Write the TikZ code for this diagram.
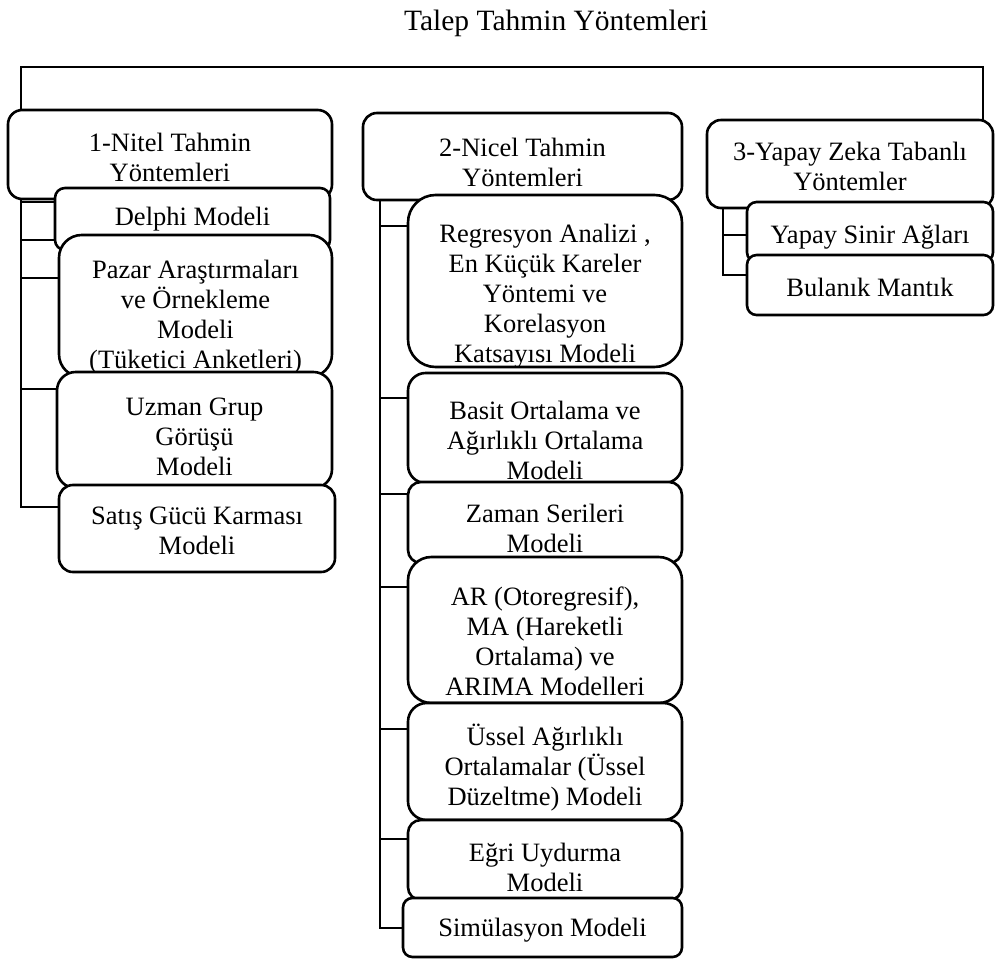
\documentclass[tikz,border=0pt]{standalone}
\usepackage{fontspec}
\setmainfont{Liberation Serif}
\newcommand\mybox[7]{%
  \node[bx, rounded corners={0.16*(#5-#3)}, minimum width={#4-#2}, minimum height={#5-#3}] (#1) at ({(#2+#4)/2},{(#3+#5)/2}) {};
  \node[tx] (#1-t) at ({(#2+#4)/2},#6) {#7};}
\begin{document}
\begin{tikzpicture}[x=1pt,y=-1pt,
  ln/.style={line width=2.6pt, line cap=rect},
  bx/.style={draw, line width=2.6pt, fill=white, inner sep=0pt, rectangle},
  tx/.style={align=center, inner sep=0pt, font=\fontsize{26.5}{30}\selectfont}]
\path[use as bounding box, fill=white] (0,0) rectangle (995,961);
\node[font=\fontsize{29.5}{32}\selectfont, inner sep=0pt] (title) at (556,23) {Talep Tahmin Yöntemleri};

% connectors
\coordinate (c1) at (21,67);
\coordinate (c3) at (983,67);
\draw[ln] (21,112) -- (c1) -- (c3) -- (983,122);
% group 1 trunk and branches
\draw[ln] (21,198) -- (21,507);
\foreach \yy in {202,240,278,389,507} \draw[ln] (21,\yy) -- (57,\yy);
% group 2
\draw[ln] (380,198) -- (380,928);
\foreach \yy in {226,398,494,587,729,839} \draw[ln] (380,\yy) -- (408,\yy);
\draw[ln] (380,928) -- (403,928);
% group 3
\draw[ln] (723,206) -- (723,275);
\draw[ln] (723,235) -- (747,235);
\draw[ln] (723,275) -- (747,275);

% group 1 boxes
\mybox{n1}{8}{110}{332}{199}{157}{1-Nitel Tahmin\\Yöntemleri}
\mybox{n1a}{55}{188}{330}{250}{219}{Delphi Modeli}
\mybox{n1b}{59}{235}{332}{377}{317}{Pazar Araştırmaları\\ve Örnekleme\\Modeli\\(Tüketici Anketleri)}
\mybox{n1c}{57}{372}{332}{488}{437}{Uzman Grup\\Görüşü\\Modeli}
\mybox{n1d}{59}{485}{335}{572}{531}{Satış Gücü Karması\\Modeli}

% group 2 boxes
\mybox{n2}{363}{113}{682}{200}{162}{2-Nicel Tahmin\\Yöntemleri}
\mybox{n2a}{408}{195}{682}{367}{296}{Regresyon Analizi ,\\En Küçük Kareler\\Yöntemi ve\\Korelasyon\\Katsayısı Modeli}
\mybox{n2b}{408}{373}{682}{483}{440}{Basit Ortalama ve\\Ağırlıklı Ortalama\\Modeli}
\mybox{n2c}{408}{482}{682}{563}{528}{Zaman Serileri\\Modeli}
\mybox{n2d}{408}{557}{682}{703}{641}{AR (Otoregresif),\\MA (Hareketli\\Ortalama) ve\\ARIMA Modelleri}
\mybox{n2e}{408}{703}{682}{820}{768}{Üssel Ağırlıklı\\Ortalamalar (Üssel\\Düzeltme) Modeli}
\mybox{n2f}{408}{820}{682}{900}{867}{Eğri Uydurma\\Modeli}
\mybox{n2g}{403}{898}{682}{957}{930}{Simülasyon Modeli}

% group 3 boxes
\mybox{n3}{707}{120}{993}{208}{166}{3-Yapay Zeka Tabanlı\\Yöntemler}
\mybox{n3a}{747}{202}{993}{262}{237}{Yapay Sinir Ağları}
\mybox{n3b}{747}{255}{993}{315}{287}{Bulanık Mantık}
\end{tikzpicture}
\end{document}
